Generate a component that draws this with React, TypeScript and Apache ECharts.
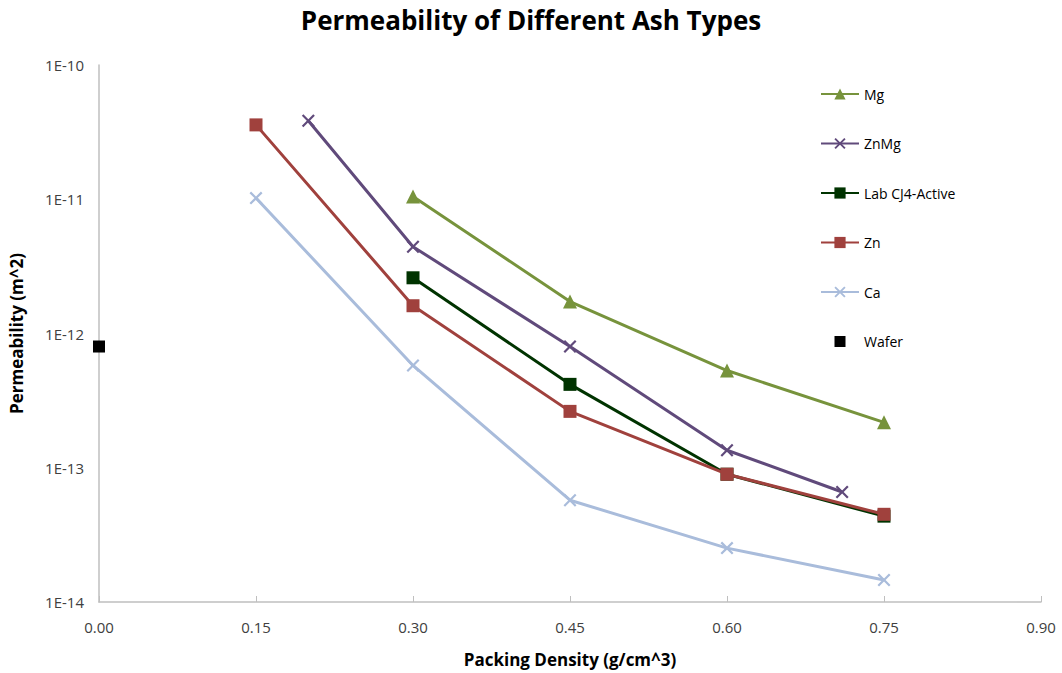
import React, { useEffect, useRef } from "react";
import * as echarts from "echarts";

const seriesNames = ["Mg", "ZnMg", "Lab CJ4-Active", "Zn", "Ca", "Wafer"];
const mgX = [0.3, 0.45, 0.6, 0.75];
const mgY = [1.05e-11, 1.73e-12, 5.3e-13, 2.18e-13];
const znmgX = [0.2, 0.3, 0.45, 0.6, 0.71];
const znmgY = [3.84e-11, 4.43e-12, 8.0e-13, 1.35e-13, 6.6e-14];
const labX = [0.3, 0.45, 0.6, 0.75];
const labY = [2.6e-12, 4.18e-13, 8.95e-14, 4.36e-14];
const znX = [0.15, 0.3, 0.45, 0.6, 0.75];
const znY = [3.58e-11, 1.61e-12, 2.63e-13, 8.95e-14, 4.5e-14];
const caX = [0.15, 0.3, 0.45, 0.6, 0.75];
const caY = [1.02e-11, 5.78e-13, 5.73e-14, 2.52e-14, 1.46e-14];
const waferX = [0.0];
const waferY = [8.0e-13];
const colors = ["#77933C", "#604A7B", "#003300", "#A0413D", "#A9BCDB", "#000000"];

const X_SYMBOL =
  "path://M0,1.2L1.2,0L5,3.8L8.8,0L10,1.2L6.2,5L10,8.8L8.8,10L5,6.2L1.2,10L0,8.8L3.8,5Z";
const WAFER_LEGEND_ICON =
  "path://M0,0L0.01,0L0.01,0.01Z M38,14L37.99,14L37.99,13.99Z M13.5,1.5L24.5,1.5L24.5,12.5L13.5,12.5Z";

const zip = (xs: number[], ys: number[]) => xs.map((x, i) => [x, ys[i]]);

const FONT = "'Open Sans', 'Noto Sans', sans-serif";

export default function App() {
  const ref = useRef<HTMLDivElement>(null);
  useEffect(() => {
    document.body.style.margin = "0";
    const chart = echarts.init(ref.current!, null, { renderer: "svg" });
    const lineSeries = (i: number, data: number[][], symbol: string, size: number) => ({
      name: seriesNames[i],
      type: "line",
      data,
      symbol,
      symbolSize: size,
      lineStyle: { color: colors[i], width: 3 },
      itemStyle: { color: colors[i], opacity: 1 },
      z: 2 + i,
    });
    chart.setOption({
      animation: false,
      textStyle: { fontFamily: FONT },
      title: {
        text: "Permeability of Different Ash Types",
        left: "center",
        top: 2,
        textStyle: { fontSize: 26, fontWeight: "bold", color: "#000", fontFamily: FONT },
      },
      legend: {
        orient: "vertical",
        left: 815,
        top: 82,
        itemWidth: 38,
        itemHeight: 14,
        itemGap: 35.5,
        textStyle: { fontSize: 14, color: "#000", fontFamily: FONT },
        data: [
          ...seriesNames.slice(0, 5),
          { name: "Wafer", icon: WAFER_LEGEND_ICON, itemStyle: { color: "#000", opacity: 1 } },
        ],
      },
      grid: { left: 97, right: 21, top: 65, bottom: 69, containLabel: false },
      xAxis: {
        type: "value",
        min: 0,
        max: 0.9,
        interval: 0.15,
        name: "Packing Density (g/cm^3)",
        nameLocation: "middle",
        nameGap: 49,
        nameTextStyle: { fontSize: 17, fontWeight: "bold", color: "#000", fontFamily: FONT },
        axisLine: { lineStyle: { color: "#BFBFBF", width: 1.5 } },
        axisTick: { show: true, inside: true, length: 6, lineStyle: { color: "#BFBFBF" } },
        axisLabel: {
          fontSize: 15,
          color: "#404040",
          margin: 17,
          formatter: (v: number) => v.toFixed(2),
        },
        splitLine: { show: false },
      },
      yAxis: {
        type: "log",
        logBase: 10,
        min: 1e-14,
        max: 1e-10,
        name: "Permeability (m^2)",
        nameLocation: "middle",
        nameGap: 74,
        nameTextStyle: { fontSize: 17, fontWeight: "bold", color: "#000", fontFamily: FONT },
        axisLine: { show: true, lineStyle: { color: "#BFBFBF", width: 1.5 } },
        axisTick: { show: false },
        axisLabel: {
          fontSize: 15,
          color: "#404040",
          margin: 15,
          formatter: (v: number) => "1E" + Math.round(Math.log10(v)),
        },
        splitLine: { show: false },
      },
      series: [
        lineSeries(0, zip(mgX, mgY), "triangle", 14),
        lineSeries(1, zip(znmgX, znmgY), X_SYMBOL, 13),
        lineSeries(2, zip(labX, labY), "rect", 13),
        lineSeries(3, zip(znX, znY), "rect", 13),
        lineSeries(4, zip(caX, caY), X_SYMBOL, 13),
        {
          name: seriesNames[5],
          type: "scatter",
          data: zip(waferX, waferY),
          symbol: "rect",
          symbolSize: 12,
          itemStyle: { color: colors[5], opacity: 1 },
          z: 10,
        },
      ],
    });
    return () => chart.dispose();
  }, []);
  return <div ref={ref} style={{ width: 1062, height: 673 }} />;
}
